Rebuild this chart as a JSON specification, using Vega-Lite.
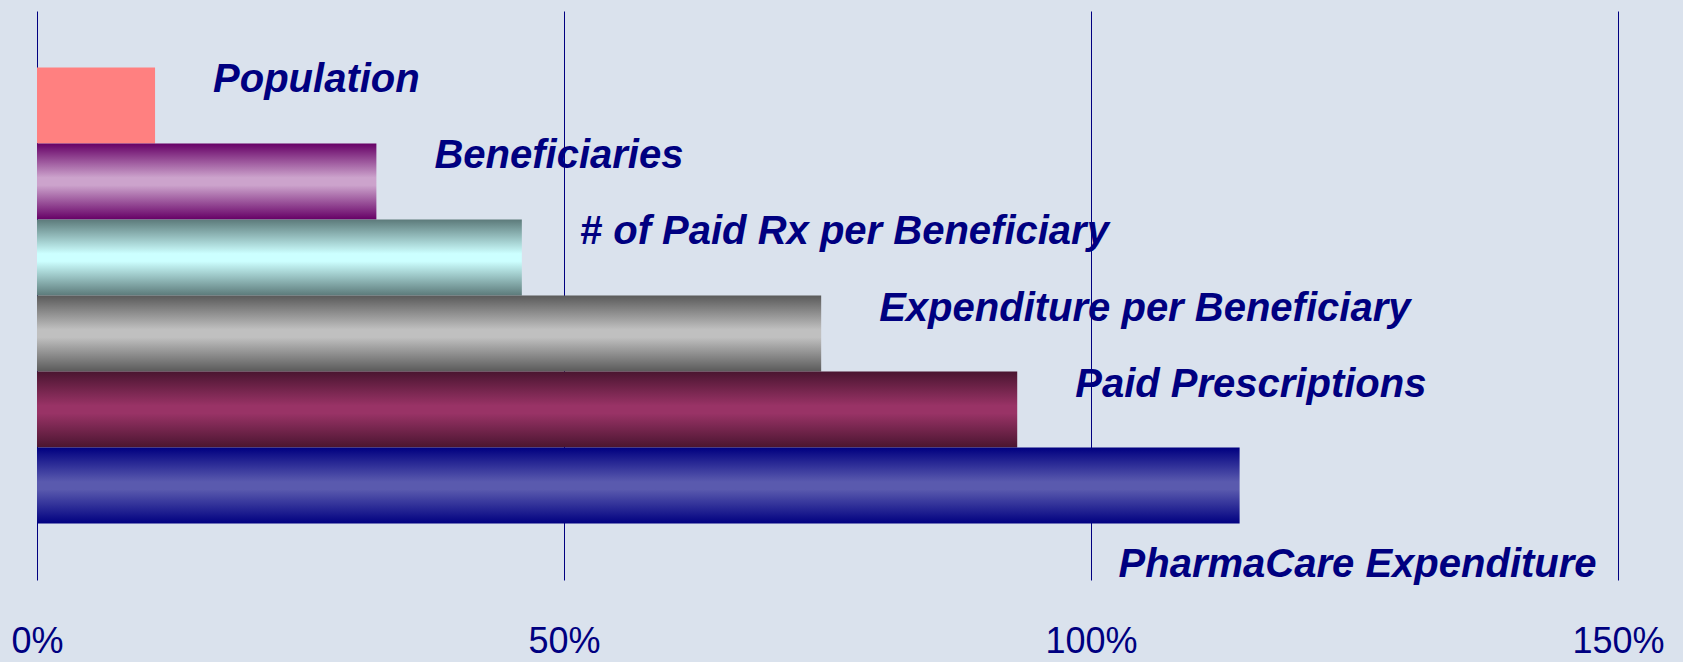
{
  "$schema": "https://vega.github.io/schema/vega-lite/v6.json",
  "autosize": "none",
  "width": 1581,
  "height": 569,
  "padding": {"left": 37, "top": 11, "right": 65, "bottom": 82},
  "background": "#dae2ed",
  "config": {"view": {"stroke": null}},
  "data": {
    "values": [
      {"category": "Population", "value": 11.2},
      {"category": "Beneficiaries", "value": 32.2},
      {"category": "# of Paid Rx per Beneficiary", "value": 46.0},
      {"category": "Expenditure per Beneficiary", "value": 74.4},
      {"category": "Paid Prescriptions", "value": 93.0},
      {"category": "PharmaCare Expenditure", "value": 114.1}
    ]
  },
  "encoding": {
    "x": {
      "field": "value",
      "type": "quantitative",
      "scale": {"domain": [0, 150], "nice": false, "zero": true},
      "axis": {
        "values": [0, 50, 100, 150],
        "labelExpr": "datum.value + '%'",
        "grid": true,
        "gridColor": "#000080",
        "gridWidth": 1,
        "gridOpacity": 1,
        "domain": false,
        "ticks": false,
        "labelFont": "Liberation Sans",
        "labelFontSize": 36,
        "labelColor": "#000080",
        "labelBaseline": "alphabetic",
        "labelPadding": 72,
        "labelFlush": false,
        "labelOverlap": false,
        "title": null
      }
    },
    "y": {
      "field": "category",
      "type": "nominal",
      "sort": null,
      "scale": {"paddingInner": 0, "paddingOuter": 0.742},
      "axis": null
    }
  },
  "layer": [
    {
      "transform": [{"filter": "datum.category === 'Population'"}],
      "mark": {"type": "bar", "fill": "#FF8080"}
    },
    {
      "transform": [{"filter": "datum.category === 'Beneficiaries'"}],
      "mark": {"type": "bar", "fill": {"gradient": "linear", "x1": 0, "y1": 0, "x2": 0, "y2": 1, "stops": [
        {"offset": 0, "color": "#660066"}, {"offset": 0.45, "color": "#CCA3CC"}, {"offset": 0.55, "color": "#CCA3CC"}, {"offset": 1, "color": "#660066"}]}}
    },
    {
      "transform": [{"filter": "datum.category === '# of Paid Rx per Beneficiary'"}],
      "mark": {"type": "bar", "fill": {"gradient": "linear", "x1": 0, "y1": 0, "x2": 0, "y2": 1, "stops": [
        {"offset": 0, "color": "#5C7A7A"}, {"offset": 0.45, "color": "#CCFFFF"}, {"offset": 0.55, "color": "#CCFFFF"}, {"offset": 1, "color": "#5C7A7A"}]}}
    },
    {
      "transform": [{"filter": "datum.category === 'Expenditure per Beneficiary'"}],
      "mark": {"type": "bar", "fill": {"gradient": "linear", "x1": 0, "y1": 0, "x2": 0, "y2": 1, "stops": [
        {"offset": 0, "color": "#5A5A5A"}, {"offset": 0.45, "color": "#C0C0C0"}, {"offset": 0.55, "color": "#C0C0C0"}, {"offset": 1, "color": "#5A5A5A"}]}}
    },
    {
      "transform": [{"filter": "datum.category === 'Paid Prescriptions'"}],
      "mark": {"type": "bar", "fill": {"gradient": "linear", "x1": 0, "y1": 0, "x2": 0, "y2": 1, "stops": [
        {"offset": 0, "color": "#4A1530"}, {"offset": 0.45, "color": "#993366"}, {"offset": 0.55, "color": "#993366"}, {"offset": 1, "color": "#4A1530"}]}}
    },
    {
      "transform": [{"filter": "datum.category === 'PharmaCare Expenditure'"}],
      "mark": {"type": "bar", "fill": {"gradient": "linear", "x1": 0, "y1": 0, "x2": 0, "y2": 1, "stops": [
        {"offset": 0, "color": "#000080"}, {"offset": 0.45, "color": "#5A5AAE"}, {"offset": 0.55, "color": "#5A5AAE"}, {"offset": 1, "color": "#000080"}]}}
    },
    {
      "transform": [{"filter": "datum.category !== 'PharmaCare Expenditure'"}],
      "mark": {"type": "text", "align": "left", "baseline": "middle", "dx": 58, "dy": -25, "font": "Liberation Sans", "fontSize": 40, "fontWeight": "bold", "fontStyle": "italic", "fill": "#000080"},
      "encoding": {"text": {"field": "category"}}
    },
    {
      "transform": [{"filter": "datum.category === 'PharmaCare Expenditure'"}],
      "mark": {"type": "text", "align": "left", "baseline": "middle", "dx": -121, "dy": 79, "font": "Liberation Sans", "fontSize": 40, "fontWeight": "bold", "fontStyle": "italic", "fill": "#000080"},
      "encoding": {"text": {"field": "category"}}
    }
  ]
}
